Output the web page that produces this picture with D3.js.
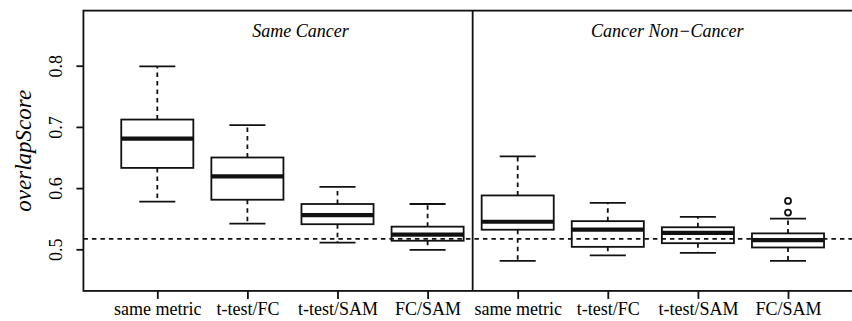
<!DOCTYPE html>
<html><head><meta charset="utf-8">
<script src="https://cdn.jsdelivr.net/npm/d3@7"></script>
<style>
html,body{margin:0;padding:0;background:#fff;}
svg{display:block;}
text{font-family:"Liberation Serif","Times New Roman",serif;fill:#000;}
</style></head>
<body>
<svg id="chart" width="852" height="321"></svg>
<script>
const categories = ["same metric","t-test/FC","t-test/SAM","FC/SAM","same metric","t-test/FC","t-test/SAM","FC/SAM"];
const panels = ["Same Cancer","Cancer Non\u2212Cancer"];
const whiskerLow  = [0.578,0.542,0.511,0.499,0.481,0.490,0.494,0.481];
const q1          = [0.633,0.581,0.541,0.514,0.532,0.504,0.510,0.503];
const medians     = [0.681,0.619,0.556,0.524,0.545,0.532,0.527,0.515];
const q3          = [0.712,0.650,0.574,0.537,0.588,0.546,0.536,0.526];
const whiskerHigh = [0.799,0.703,0.602,0.574,0.652,0.576,0.553,0.550];
const outliers    = [[],[],[],[],[],[],[],[0.560,0.579]];
const yTicks = [0.5,0.6,0.7,0.8];
const refLine = 0.517;

const svg = d3.select("#chart");
const x = d3.scaleLinear().domain([1,8]).range([157.3,788]);
const y = d3.scaleLinear().domain([0.5,0.8]).range([249.3,65.7]);
const xMin = 0.18, xMax = 8.82, yMin = 0.432, yMax = 0.89;
const ink = "#111";
const lw = 1.8;
const boxW = x(1.8)-x(1);

const data = categories.map((c,i)=>({c,i,pos:i+1,wl:whiskerLow[i],q1:q1[i],med:medians[i],q3:q3[i],wh:whiskerHigh[i],out:outliers[i]}));

// reference dashed line
svg.append("line").attr("x1",x(xMin)).attr("x2",x(xMax)).attr("y1",y(refLine)).attr("y2",y(refLine))
  .attr("stroke",ink).attr("stroke-width",lw).attr("stroke-dasharray","4.5,4");

const g = svg.selectAll("g.box").data(data).enter().append("g").attr("class","box");
// whiskers
g.append("line").attr("x1",d=>x(d.pos)).attr("x2",d=>x(d.pos)).attr("y1",d=>y(d.q3)).attr("y2",d=>y(d.wh))
  .attr("stroke",ink).attr("stroke-width",lw).attr("stroke-dasharray","4.5,4");
g.append("line").attr("x1",d=>x(d.pos)).attr("x2",d=>x(d.pos)).attr("y1",d=>y(d.q1)).attr("y2",d=>y(d.wl))
  .attr("stroke",ink).attr("stroke-width",lw).attr("stroke-dasharray","4.5,4");
// staples
g.append("line").attr("x1",d=>x(d.pos)-boxW/4).attr("x2",d=>x(d.pos)+boxW/4).attr("y1",d=>y(d.wh)).attr("y2",d=>y(d.wh))
  .attr("stroke",ink).attr("stroke-width",lw);
g.append("line").attr("x1",d=>x(d.pos)-boxW/4).attr("x2",d=>x(d.pos)+boxW/4).attr("y1",d=>y(d.wl)).attr("y2",d=>y(d.wl))
  .attr("stroke",ink).attr("stroke-width",lw);
// box
g.append("rect").attr("x",d=>x(d.pos)-boxW/2).attr("width",boxW).attr("y",d=>y(d.q3)).attr("height",d=>y(d.q1)-y(d.q3))
  .attr("fill","none").attr("stroke",ink).attr("stroke-width",lw);
// median
g.append("line").attr("x1",d=>x(d.pos)-boxW/2).attr("x2",d=>x(d.pos)+boxW/2).attr("y1",d=>y(d.med)).attr("y2",d=>y(d.med))
  .attr("stroke",ink).attr("stroke-width",4.2);
// outliers
g.selectAll("circle").data(d=>d.out.map(v=>({pos:d.pos,v}))).enter().append("circle")
  .attr("cx",d=>x(d.pos)).attr("cy",d=>y(d.v)).attr("r",3).attr("fill","none").attr("stroke",ink).attr("stroke-width",lw);

// frame and divider
svg.append("rect").attr("x",x(xMin)).attr("y",y(yMax)).attr("width",x(xMax)-x(xMin)).attr("height",y(yMin)-y(yMax))
  .attr("fill","none").attr("stroke",ink).attr("stroke-width",lw);
svg.append("line").attr("x1",x(4.5)).attr("x2",x(4.5)).attr("y1",y(yMax)).attr("y2",y(yMin))
  .attr("stroke",ink).attr("stroke-width",lw);

// panel titles
const titlePos = [2.59, 6.66];
svg.selectAll("text.panel").data(panels).enter().append("text").attr("class","panel")
  .attr("x",(d,i)=>x(titlePos[i])).attr("y",37).attr("text-anchor","middle")
  .attr("font-size",18).attr("font-style","italic").text(d=>d);

// x axis
const xAxis = d3.axisBottom(x).tickValues(d3.range(1,9)).tickSize(8).tickFormat(d=>categories[d-1]);
const xg = svg.append("g").attr("transform",`translate(0,${y(yMin)})`).call(xAxis);
xg.select(".domain").remove();
xg.selectAll(".tick line").attr("stroke",ink).attr("stroke-width",lw);
xg.selectAll(".tick text").attr("font-size",18).attr("font-family","Liberation Serif").attr("fill","#000").attr("dy",null).attr("y",24);

// y axis
const yAxis = d3.axisLeft(y).tickValues(yTicks).tickSize(7).tickFormat(d3.format(".1f"));
const yg = svg.append("g").attr("transform",`translate(${x(xMin)},0)`).call(yAxis);
yg.select(".domain").remove();
yg.selectAll(".tick line").attr("stroke",ink).attr("stroke-width",lw);
yg.selectAll(".tick text").attr("font-size",18).attr("font-family","Liberation Serif").attr("fill","#000")
  .attr("x",null).attr("dy",null).attr("text-anchor","middle")
  .attr("transform",`translate(${62-x(xMin)},0) rotate(-90)`);

// y label
svg.append("text").attr("transform",`translate(31,${(y(yMax)+y(yMin))/2}) rotate(-90)`)
  .attr("text-anchor","middle").attr("font-size",23).attr("font-style","italic").text("overlapScore");
</script>
</body></html>
